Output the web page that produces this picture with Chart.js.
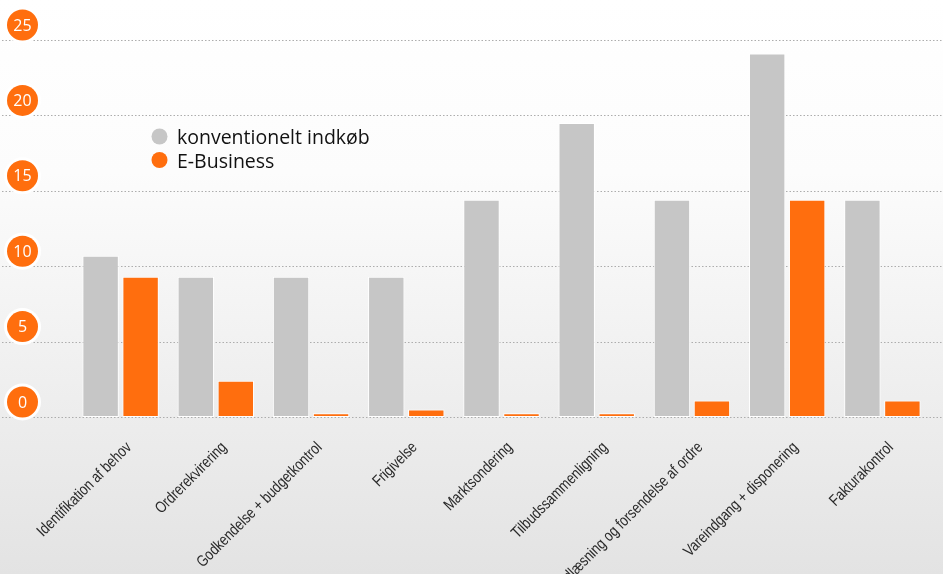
<!DOCTYPE html>
<html>
<head>
<meta charset="utf-8">
<script src="https://cdn.jsdelivr.net/npm/chart.js@4.4.1/dist/chart.umd.min.js"></script>
<style>
  html, body { margin: 0; padding: 0; background: #fff; }
  .canvas-container { position: relative; width: 943px; height: 574px; }
</style>
</head>
<body>
<div class="canvas-container"><canvas id="chart"></canvas></div>
<script>
const categories = [
    'Identifikation af behov',
    'Ordrerekvirering',
    'Godkendelse + budgetkontrol',
    'Frigivelse',
    'Marktsondering',
    'Tilbudssammenligning',
    'Indlæsning og forsendelse af ordre',
    'Vareindgang + disponering',
    'Fakturakontrol'
];
const konventionelt = [10.7, 9.3, 9.3, 9.3, 14.4, 19.5, 14.4, 24.1, 14.4];
const eBusiness = [9.3, 2.4, 0.25, 0.5, 0.25, 0.25, 1.1, 14.4, 1.1];
const yTicks = [0, 5, 10, 15, 20, 25];

const ORANGE = '#ff6e0e';
const GREY = '#c6c6c6';

// soft white-to-grey backdrop
const backdrop = {
    id: 'backdrop',
    beforeDraw(chart) {
        const {ctx, width, height} = chart;
        const g = ctx.createLinearGradient(0, 0, 0, height);
        g.addColorStop(0, '#ffffff');
        g.addColorStop(0.3, '#fcfcfc');
        g.addColorStop(1, '#e3e3e3');
        ctx.save();
        ctx.fillStyle = g;
        ctx.fillRect(0, 0, width, height);
        ctx.restore();
    }
};

// dotted grid lines across the whole width
const dottedGrid = {
    id: 'dottedGrid',
    beforeDatasetsDraw(chart) {
        const {ctx, width} = chart;
        const y = chart.scales.y;
        ctx.save();
        ctx.strokeStyle = '#adadad';
        ctx.lineWidth = 1;
        ctx.setLineDash([1.5, 2]);
        yTicks.forEach(v => {
            const py = Math.round(y.getPixelForValue(v)) + 0.5;
            ctx.beginPath();
            ctx.moveTo(2, py);
            ctx.lineTo(width, py);
            ctx.stroke();
        });
        ctx.restore();
    }
};

// orange round tick badges on the left
const tickBadges = {
    id: 'tickBadges',
    afterDraw(chart) {
        const {ctx} = chart;
        const y = chart.scales.y;
        ctx.save();
        yTicks.forEach(v => {
            const cy = y.getPixelForValue(v) - 15;
            const cx = 22.5;
            ctx.beginPath();
            ctx.arc(cx, cy, 18.5, 0, Math.PI * 2);
            ctx.fillStyle = '#ffffff';
            ctx.fill();
            ctx.beginPath();
            ctx.arc(cx, cy, 15.5, 0, Math.PI * 2);
            ctx.fillStyle = ORANGE;
            ctx.fill();
            ctx.fillStyle = '#ffffff';
            ctx.font = '16px "Open Sans", sans-serif';
            ctx.textAlign = 'center';
            ctx.textBaseline = 'middle';
            ctx.fillText(String(v), cx, cy + 1);
        });
        ctx.restore();
    }
};

// narrow, rotated category labels
const slantLabels = {
    id: 'slantLabels',
    afterDraw(chart) {
        const {ctx} = chart;
        const x = chart.scales.x;
        const y0 = chart.scales.y.getPixelForValue(0);
        ctx.save();
        ctx.fillStyle = '#2a2a2a';
        ctx.font = '16px "Liberation Sans", Arial, sans-serif';
        ctx.textAlign = 'right';
        ctx.textBaseline = 'middle';
        categories.forEach((label, i) => {
            ctx.save();
            ctx.translate(x.getPixelForValue(i) + 8.5, y0 + 28);
            ctx.rotate(-Math.PI / 4);
            ctx.scale(0.81, 1);
            ctx.fillText(label, 0, 0);
            ctx.restore();
        });
        ctx.restore();
    }
};

// legend drawn inside the plot
const innerLegend = {
    id: 'innerLegend',
    afterDraw(chart) {
        const {ctx} = chart;
        ctx.save();
        ctx.font = '19.5px "Open Sans", sans-serif';
        ctx.textAlign = 'left';
        ctx.textBaseline = 'alphabetic';
        chart.data.datasets.forEach((ds, i) => {
            const cy = 136.5 + i * 23.5;
            ctx.beginPath();
            ctx.arc(159.5, cy, 8, 0, Math.PI * 2);
            ctx.fillStyle = ds.backgroundColor;
            ctx.fill();
            ctx.fillStyle = '#111111';
            ctx.fillText(ds.label, 177, cy + 7.5);
        });
        ctx.restore();
    }
};

const context = document.getElementById('chart').getContext('2d');
new Chart(context, {
    type: 'bar',
    data: {
        labels: categories,
        datasets: [{
            label: 'konventionelt indkøb',
            data: konventionelt,
            backgroundColor: GREY,
            borderColor: '#ffffff',
            borderWidth: 1,
            borderSkipped: false
        }, {
            label: 'E-Business',
            data: eBusiness,
            backgroundColor: ORANGE,
            borderColor: '#ffffff',
            borderWidth: 1,
            borderSkipped: false
        }]
    },
    options: {
        responsive: true,
        maintainAspectRatio: false,
        animation: false,
        layout: { padding: { top: 40, right: 13, left: 0, bottom: 0 } },
        datasets: { bar: { categoryPercentage: 0.84, barPercentage: 0.91 } },
        plugins: {
            legend: { display: false },
            tooltip: { enabled: false }
        },
        scales: {
            x: {
                grid: { display: false, drawTicks: false },
                border: { display: false },
                ticks: { display: false },
                afterFit(scale) { scale.height = 157; }
            },
            y: {
                min: 0,
                max: 25,
                grid: { display: false, drawTicks: false },
                border: { display: false },
                ticks: { display: false, stepSize: 5 },
                afterFit(scale) { scale.width = 73; }
            }
        }
    },
    plugins: [backdrop, dottedGrid, tickBadges, slantLabels, innerLegend]
});
</script>
</body>
</html>
